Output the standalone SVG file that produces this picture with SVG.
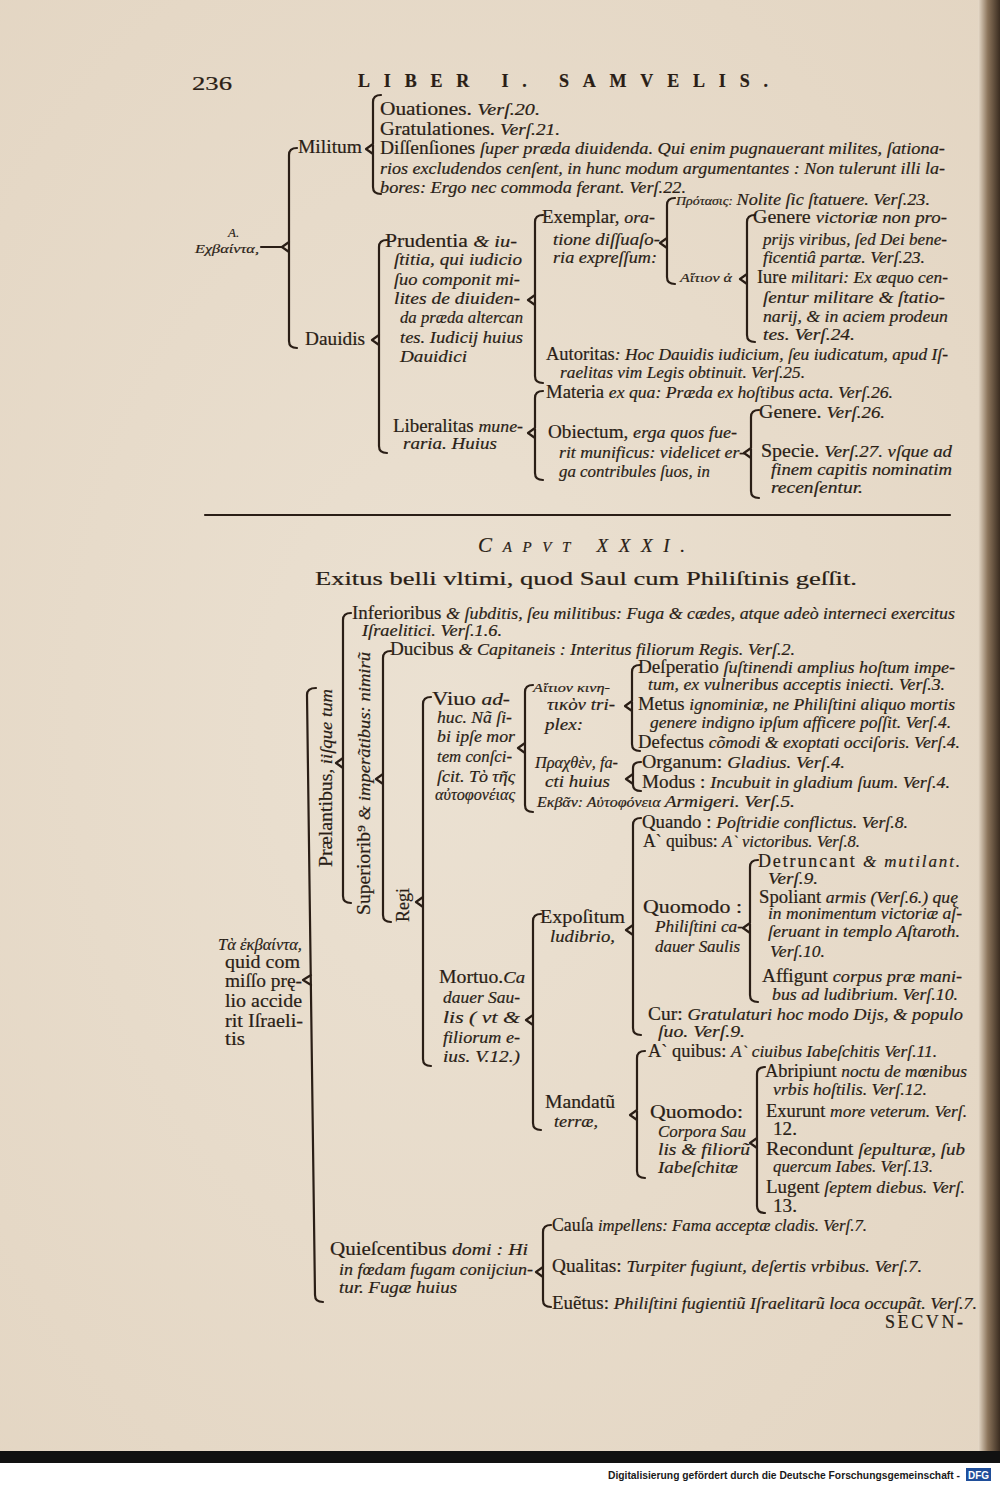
<svg xmlns="http://www.w3.org/2000/svg" width="1000" height="1485" viewBox="0 0 1000 1485">
<defs>
<style>
text{font-family:"Liberation Serif","DejaVu Serif",serif;fill:#2a1e16;font-size:18px;stroke:#2a1e16;stroke-width:0.2}
.i{font-style:italic;font-size:17px}
.g{font-style:italic;font-size:13px}
.b{stroke:#2a1e16;stroke-width:2.2;fill:none;stroke-linecap:round;stroke-linejoin:round}
.ft{font-family:"Liberation Sans",Arial,sans-serif;font-size:11.5px;font-weight:bold;fill:#1a1a1a;stroke:none}
</style>
<linearGradient id="edge" x1="0" y1="0" x2="1" y2="0">
<stop offset="0" stop-color="#e8dccb"/>
<stop offset="0.45" stop-color="#8a735a"/>
<stop offset="1" stop-color="#3a2c20"/>
</linearGradient>
<radialGradient id="paper" cx="0.45" cy="0.5" r="0.75">
<stop offset="0" stop-color="#ebe1d2"/>
<stop offset="1" stop-color="#e3d5c2"/>
</radialGradient>
</defs>
<rect x="0" y="0" width="1000" height="1452" fill="url(#paper)"/>
<rect x="978" y="0" width="22" height="1452" fill="url(#edge)"/>
<rect x="0" y="1451" width="1000" height="12" fill="#111"/>
<rect x="0" y="1463" width="1000" height="22" fill="#fff"/>

<g id="header">
<text x="192" y="90" font-size="21" textLength="40" lengthAdjust="spacingAndGlyphs">236</text>
<text x="358" y="87" font-size="22" font-weight="bold" textLength="410" lengthAdjust="spacing">LIBER I. SAMVELIS.</text>
</g>

<g id="connectors">
<path class="b" d="M261,247 L282,247"/>
<path class="b" d="M297,148 Q289,148 289,155 V341 Q289,348 297,348 M282,247 L289,242 M282,247 L289,252"/>
<path class="b" d="M381,95 Q373,95 373,102 V187 Q373,194 381,194 M366,149 L373,144 M366,149 L373,154"/>
<path class="b" d="M387,240 Q379,240 379,247 V446 Q379,453 387,453 M372,340 L379,335 M372,340 L379,345"/>
<path class="b" d="M543,215 Q535,215 535,222 V376 Q535,383 543,383 M528,300 L535,295 M528,300 L535,305"/>
<path class="b" d="M675,198 Q667,198 667,205 V277 Q667,284 675,284 M660,243 L667,238 M660,243 L667,248"/>
<path class="b" d="M755,215 Q747,215 747,222 V335 Q747,342 755,342 M740,279 L747,274 M740,279 L747,284"/>
<path class="b" d="M543,391 Q535,391 535,398 V473 Q535,480 543,480 M528,433 L535,428 M528,433 L535,438"/>
<path class="b" d="M759,410 Q751,410 751,417 V491 Q751,498 759,498 M744,453 L751,448 M744,453 L751,458"/>
<path class="b" d="M205,515 L950,515" stroke-width="3"/>
<path class="b" d="M316,688 Q307,688 307,695 L315,1295 Q315,1302 323,1302 M303,980 L311,975 M303,980 L311,985"/>
<path class="b" d="M351,613 Q343,613 343,620 V896 Q343,903 351,903 M336,763 L343,758 M336,763 L343,768"/>
<path class="b" d="M391,651 Q383,651 383,658 V915 Q383,922 391,922 M376,779 L383,774 M376,779 L383,784"/>
<path class="b" d="M431,697 Q423,697 423,704 V1059 Q423,1066 431,1066 M416,902 L423,897 M416,902 L423,907"/>
<path class="b" d="M533,685 Q525,685 525,692 V805 Q525,812 533,812 M518,748 L525,743 M518,748 L525,753"/>
<path class="b" d="M640,665 Q632,665 632,672 V744 Q632,751 640,751 M625,706 L632,701 M625,706 L632,711"/>
<path class="b" d="M641,762 Q633,762 633,768 V785 Q633,791 641,791 M626,779 L633,774 M626,779 L633,784"/>
<path class="b" d="M541,914 Q533,914 533,921 V1123 Q533,1130 541,1130 M526,1020 L533,1015 M526,1020 L533,1025"/>
<path class="b" d="M641,818 Q633,818 633,825 V1028 Q633,1035 641,1035 M626,930 L633,925 M626,930 L633,935"/>
<path class="b" d="M758,860 Q750,860 750,867 V995 Q750,1002 758,1002 M743,928 L750,923 M743,928 L750,933"/>
<path class="b" d="M645,1051 Q637,1051 637,1058 V1171 Q637,1178 645,1178 M630,1115 L637,1110 M630,1115 L637,1120"/>
<path class="b" d="M765,1067 Q757,1067 757,1074 V1206 Q757,1213 765,1213 M750,1143 L757,1138 M750,1143 L757,1148"/>
<path class="b" d="M551,1225 Q543,1225 543,1232 V1300 Q543,1307 551,1307 M536,1272 L543,1267 M536,1272 L543,1277"/>
</g>

<g id="n-root1">
<text class="g" x="228" y="237">Α.</text>
<text class="g" x="195" y="253" textLength="64" lengthAdjust="spacingAndGlyphs">Εχβαίντα,</text>
</g>
<g id="n-militum"><text x="298" y="153" textLength="64" lengthAdjust="spacingAndGlyphs">Militum</text></g>
<g id="n-militum-items">
<text x="380" y="115" textLength="160" lengthAdjust="spacingAndGlyphs">Ouationes. <tspan class="i">Verſ.20.</tspan></text>
<text x="380" y="135" textLength="180" lengthAdjust="spacingAndGlyphs">Gratulationes. <tspan class="i">Verſ.21.</tspan></text>
<text x="380" y="154" textLength="565" lengthAdjust="spacingAndGlyphs">Diſſenſiones <tspan class="i">ſuper præda diuidenda. Qui enim pugnauerant milites, ſationa-</tspan></text>
<text class="i" x="380" y="174" textLength="565" lengthAdjust="spacingAndGlyphs">rios excludendos cenſent, in hunc modum argumentantes : Non tulerunt illi la-</text>
<text class="i" x="380" y="193" textLength="306" lengthAdjust="spacingAndGlyphs">bores: Ergo nec commoda ferant. Verſ.22.</text>
</g>
<g id="n-dauidis"><text x="305" y="345" textLength="60" lengthAdjust="spacingAndGlyphs">Dauidis</text></g>
<g id="n-prudentia">
<text x="385" y="247" textLength="132" lengthAdjust="spacingAndGlyphs">Prudentia <tspan class="i">&amp; iu-</tspan></text>
<text class="i" x="394" y="265" textLength="128" lengthAdjust="spacingAndGlyphs">ſtitia, qui iudicio</text>
<text class="i" x="394" y="285" textLength="126" lengthAdjust="spacingAndGlyphs">ſuo componit mi-</text>
<text class="i" x="394" y="304" textLength="126" lengthAdjust="spacingAndGlyphs">lites de diuiden-</text>
<text class="i" x="400" y="323" textLength="123" lengthAdjust="spacingAndGlyphs">da præda altercan</text>
<text class="i" x="400" y="343" textLength="123" lengthAdjust="spacingAndGlyphs">tes. Iudicij huius</text>
<text class="i" x="400" y="362" textLength="67" lengthAdjust="spacingAndGlyphs">Dauidici</text>
</g>
<g id="n-exemplar">
<text x="542" y="223" textLength="113" lengthAdjust="spacingAndGlyphs">Exemplar, <tspan class="i">ora-</tspan></text>
<text class="i" x="553" y="245" textLength="107" lengthAdjust="spacingAndGlyphs">tione diſſuaſo-</text>
<text class="i" x="553" y="263" textLength="104" lengthAdjust="spacingAndGlyphs">ria expreſſum:</text>
</g>
<g id="n-protasis"><text class="i" x="676" y="205" textLength="254" lengthAdjust="spacingAndGlyphs"><tspan class="g">Πρότασις: </tspan>Nolite ſic ſtatuere. Verſ.23.</text></g>
<g id="n-aition1"><text class="g" x="680" y="282" textLength="52" lengthAdjust="spacingAndGlyphs">Αἴτιον ἀ</text></g>
<g id="n-genere1">
<text x="753" y="223" textLength="194" lengthAdjust="spacingAndGlyphs">Genere <tspan class="i">victoriæ non pro-</tspan></text>
<text class="i" x="763" y="245" textLength="184" lengthAdjust="spacingAndGlyphs">prijs viribus, ſed Dei bene-</text>
<text class="i" x="763" y="263" textLength="162" lengthAdjust="spacingAndGlyphs">ficentiâ partæ. Verſ.23.</text>
</g>
<g id="n-iure">
<text x="757" y="283" textLength="191" lengthAdjust="spacingAndGlyphs">Iure <tspan class="i">militari: Ex æquo cen-</tspan></text>
<text class="i" x="763" y="303" textLength="182" lengthAdjust="spacingAndGlyphs">ſentur militare &amp; ſtatio-</text>
<text class="i" x="763" y="322" textLength="185" lengthAdjust="spacingAndGlyphs">narij, &amp; in aciem prodeun</text>
<text class="i" x="763" y="340" textLength="92" lengthAdjust="spacingAndGlyphs">tes. Verſ.24.</text>
</g>
<g id="n-autoritas">
<text x="546" y="360" textLength="402" lengthAdjust="spacingAndGlyphs">Autoritas<tspan class="i">: Hoc Dauidis iudicium, ſeu iudicatum, apud Iſ-</tspan></text>
<text class="i" x="560" y="378" textLength="245" lengthAdjust="spacingAndGlyphs">raelitas vim Legis obtinuit. Verſ.25.</text>
</g>
<g id="n-liberalitas">
<text x="393" y="432" textLength="130" lengthAdjust="spacingAndGlyphs">Liberalitas <tspan class="i">mune-</tspan></text>
<text class="i" x="403" y="449" textLength="94" lengthAdjust="spacingAndGlyphs">raria. Huius</text>
</g>
<g id="n-materia"><text x="546" y="398" textLength="347" lengthAdjust="spacingAndGlyphs">Materia <tspan class="i">ex qua: Præda ex hoſtibus acta. Verſ.26.</tspan></text></g>
<g id="n-obiectum">
<text x="548" y="438" textLength="189" lengthAdjust="spacingAndGlyphs">Obiectum, <tspan class="i">erga quos fue-</tspan></text>
<text class="i" x="559" y="458" textLength="186" lengthAdjust="spacingAndGlyphs">rit munificus: videlicet er-</text>
<text class="i" x="559" y="477" textLength="151" lengthAdjust="spacingAndGlyphs">ga contribules ſuos, in</text>
</g>
<g id="n-genere2"><text x="759" y="418" textLength="126" lengthAdjust="spacingAndGlyphs">Genere. <tspan class="i">Verſ.26.</tspan></text></g>
<g id="n-specie">
<text x="761" y="457" textLength="191" lengthAdjust="spacingAndGlyphs">Specie. <tspan class="i">Verſ.27. vſque ad</tspan></text>
<text class="i" x="771" y="475" textLength="181" lengthAdjust="spacingAndGlyphs">finem capitis nominatim</text>
<text class="i" x="771" y="493" textLength="92" lengthAdjust="spacingAndGlyphs">recenſentur.</text>
</g>

<g id="chapter-title">
<text class="i" x="478" y="552" textLength="207" lengthAdjust="spacing"><tspan font-size="21">C</tspan><tspan font-size="15">APVT</tspan><tspan font-size="19">  XXXI.</tspan></text>
<text x="315" y="585" font-size="24" textLength="542" lengthAdjust="spacingAndGlyphs">Exitus belli vltimi, quod Saul cum Philiſtinis geſſit.</text>
</g>

<g id="n-root2">
<text class="i" x="218" y="950" font-size="15" textLength="84" lengthAdjust="spacingAndGlyphs">Τὰ ἐκβαίντα,</text>
<text x="225" y="968" textLength="75" lengthAdjust="spacingAndGlyphs">quid com</text>
<text x="225" y="987" textLength="77" lengthAdjust="spacingAndGlyphs">miſſo prę-</text>
<text x="225" y="1007" textLength="77" lengthAdjust="spacingAndGlyphs">lio accide</text>
<text x="225" y="1027" textLength="78" lengthAdjust="spacingAndGlyphs">rit Iſraeli-</text>
<text x="225" y="1045" textLength="20" lengthAdjust="spacingAndGlyphs">tis</text>
</g>
<g id="n-praeliantibus"><text transform="translate(332,867) rotate(-90)" textLength="178" lengthAdjust="spacingAndGlyphs">Prælantibus<tspan class="i">, iiſque tum</tspan></text></g>
<g id="n-superioribus"><text transform="translate(370,915) rotate(-90)" textLength="263" lengthAdjust="spacingAndGlyphs">Superiorib⁹ <tspan class="i">&amp; imperãtibus: nimirũ</tspan></text></g>
<g id="n-regi"><text transform="translate(409,922) rotate(-90)" textLength="34" lengthAdjust="spacingAndGlyphs">Regi</text></g>
<g id="n-inferioribus">
<text x="352" y="619" textLength="603" lengthAdjust="spacingAndGlyphs">Inferioribus <tspan class="i">&amp; ſubditis, ſeu militibus: Fuga &amp; cædes, atque adeò interneci exercitus</tspan></text>
<text class="i" x="362" y="636" textLength="140" lengthAdjust="spacingAndGlyphs">Iſraelitici. Verſ.1.6.</text>
</g>
<g id="n-ducibus"><text x="390" y="655" textLength="405" lengthAdjust="spacingAndGlyphs">Ducibus <tspan class="i">&amp; Capitaneis : Interitus filiorum Regis. Verſ.2.</tspan></text></g>
<g id="n-viuo">
<text x="432" y="705" textLength="78" lengthAdjust="spacingAndGlyphs">Viuo <tspan class="i">ad-</tspan></text>
<text class="i" x="437" y="723" textLength="75" lengthAdjust="spacingAndGlyphs">huc. Nã ſi-</text>
<text class="i" x="437" y="742" textLength="78" lengthAdjust="spacingAndGlyphs">bi ipſe mor</text>
<text class="i" x="437" y="762" textLength="75" lengthAdjust="spacingAndGlyphs">tem conſci-</text>
<text class="i" x="437" y="782" textLength="78" lengthAdjust="spacingAndGlyphs">ſcit. Τὸ τῆς</text>
<text class="i" x="435" y="800" font-size="14" textLength="80" lengthAdjust="spacingAndGlyphs">αὐτοφονέιας</text>
</g>
<g id="n-aition2">
<text class="g" x="533" y="692" textLength="77" lengthAdjust="spacingAndGlyphs">Αἴτιον κινη-</text>
<text class="i" x="547" y="710" font-size="14" textLength="68" lengthAdjust="spacingAndGlyphs">τικὸν tri-</text>
<text class="i" x="545" y="730" textLength="38" lengthAdjust="spacingAndGlyphs">plex:</text>
</g>
<g id="n-desperatio">
<text x="638" y="673" textLength="317" lengthAdjust="spacingAndGlyphs">Deſperatio <tspan class="i">ſuſtinendi amplius hoſtum impe-</tspan></text>
<text class="i" x="648" y="690" textLength="297" lengthAdjust="spacingAndGlyphs">tum, ex vulneribus acceptis iniecti. Verſ.3.</text>
</g>
<g id="n-metus">
<text x="638" y="710" textLength="317" lengthAdjust="spacingAndGlyphs">Metus <tspan class="i">ignominiæ, ne Philiſtini aliquo mortis</tspan></text>
<text class="i" x="650" y="728" textLength="301" lengthAdjust="spacingAndGlyphs">genere indigno ipſum afficere poſſit. Verſ.4.</text>
</g>
<g id="n-defectus"><text x="638" y="748" textLength="322" lengthAdjust="spacingAndGlyphs">Defectus <tspan class="i">cõmodi &amp; exoptati occiſoris. Verſ.4.</tspan></text></g>
<g id="n-prachthen">
<text class="i" x="535" y="768" font-size="15" textLength="83" lengthAdjust="spacingAndGlyphs">Πραχθὲν, fa-</text>
<text class="i" x="545" y="787" textLength="65" lengthAdjust="spacingAndGlyphs">cti huius</text>
</g>
<g id="n-organum"><text x="642" y="768" textLength="203" lengthAdjust="spacingAndGlyphs">Organum: <tspan class="i">Gladius. Verſ.4.</tspan></text></g>
<g id="n-modus"><text x="642" y="788" textLength="308" lengthAdjust="spacingAndGlyphs">Modus : <tspan class="i">Incubuit in gladium ſuum. Verſ.4.</tspan></text></g>
<g id="n-ekban"><text class="i" x="537" y="807" textLength="258" lengthAdjust="spacingAndGlyphs"><tspan font-size="14">Εκβᾶν: Αὐτοφόνεια </tspan>Armigeri. Verſ.5.</text></g>
<g id="n-mortuo">
<text x="439" y="983" textLength="86" lengthAdjust="spacingAndGlyphs">Mortuo.<tspan class="i">Ca</tspan></text>
<text class="i" x="443" y="1003" textLength="77" lengthAdjust="spacingAndGlyphs">dauer Sau-</text>
<text class="i" x="443" y="1023" textLength="77" lengthAdjust="spacingAndGlyphs">lis ( vt &amp;</text>
<text class="i" x="443" y="1043" textLength="77" lengthAdjust="spacingAndGlyphs">filiorum e-</text>
<text class="i" x="443" y="1062" textLength="77" lengthAdjust="spacingAndGlyphs">ius. V.12.)</text>
</g>
<g id="n-expositum">
<text x="540" y="923" textLength="85" lengthAdjust="spacingAndGlyphs">Expoſitum</text>
<text class="i" x="550" y="942" textLength="65" lengthAdjust="spacingAndGlyphs">ludibrio,</text>
</g>
<g id="n-quando"><text x="642" y="828" textLength="266" lengthAdjust="spacingAndGlyphs">Quando : <tspan class="i">Poſtridie conflictus. Verſ.8.</tspan></text></g>
<g id="n-aquibus1"><text x="643" y="847" textLength="217" lengthAdjust="spacingAndGlyphs">A` quibus: <tspan class="i">A` victoribus. Verſ.8.</tspan></text></g>
<g id="n-quomodo1">
<text x="643" y="913" textLength="99" lengthAdjust="spacingAndGlyphs">Quomodo :</text>
<text class="i" x="655" y="932" textLength="88" lengthAdjust="spacingAndGlyphs">Philiſtini ca-</text>
<text class="i" x="655" y="952" textLength="85" lengthAdjust="spacingAndGlyphs">dauer Saulis</text>
</g>
<g id="n-detruncant">
<text x="758" y="867" textLength="202" lengthAdjust="spacing">Detruncant     <tspan class="i">&amp; mutilant.</tspan></text>
<text class="i" x="768" y="884" textLength="50" lengthAdjust="spacingAndGlyphs">Verſ.9.</text>
</g>
<g id="n-spoliant">
<text x="759" y="903" textLength="199" lengthAdjust="spacingAndGlyphs">Spoliant <tspan class="i">armis (Verſ.6.) quę</tspan></text>
<text class="i" x="768" y="919" textLength="194" lengthAdjust="spacingAndGlyphs">in monimentum victoriæ aſ-</text>
<text class="i" x="768" y="937" textLength="192" lengthAdjust="spacingAndGlyphs">ſeruant in templo Aſtaroth.</text>
<text class="i" x="770" y="957" textLength="55" lengthAdjust="spacingAndGlyphs">Verſ.10.</text>
</g>
<g id="n-affigunt">
<text x="762" y="982" textLength="200" lengthAdjust="spacingAndGlyphs">Affigunt <tspan class="i">corpus præ mani-</tspan></text>
<text class="i" x="772" y="1000" textLength="186" lengthAdjust="spacingAndGlyphs">bus ad ludibrium. Verſ.10.</text>
</g>
<g id="n-cur">
<text x="648" y="1020" textLength="315" lengthAdjust="spacingAndGlyphs">Cur: <tspan class="i">Gratulaturi hoc modo Dijs, &amp; populo</tspan></text>
<text class="i" x="658" y="1037" textLength="87" lengthAdjust="spacingAndGlyphs">ſuo. Verſ.9.</text>
</g>
<g id="n-mandatu">
<text x="545" y="1108" textLength="70" lengthAdjust="spacingAndGlyphs">Mandatũ</text>
<text class="i" x="554" y="1127" textLength="44" lengthAdjust="spacingAndGlyphs">terræ,</text>
</g>
<g id="n-aquibus2"><text x="648" y="1057" textLength="289" lengthAdjust="spacingAndGlyphs">A` quibus: <tspan class="i">A` ciuibus Iabeſchitis Verſ.11.</tspan></text></g>
<g id="n-quomodo2">
<text x="650" y="1118" textLength="93" lengthAdjust="spacingAndGlyphs">Quomodo:</text>
<text class="i" x="658" y="1137" textLength="88" lengthAdjust="spacingAndGlyphs">Corpora Sau</text>
<text class="i" x="658" y="1155" textLength="92" lengthAdjust="spacingAndGlyphs">lis &amp; filiorũ</text>
<text class="i" x="658" y="1173" textLength="80" lengthAdjust="spacingAndGlyphs">Iabeſchitæ</text>
</g>
<g id="n-abripiunt">
<text x="765" y="1077" textLength="202" lengthAdjust="spacingAndGlyphs">Abripiunt <tspan class="i">noctu de mœnibus</tspan></text>
<text class="i" x="773" y="1095" textLength="154" lengthAdjust="spacingAndGlyphs">vrbis hoſtilis. Verſ.12.</text>
</g>
<g id="n-exurunt">
<text x="766" y="1117" textLength="201" lengthAdjust="spacingAndGlyphs">Exurunt <tspan class="i">more veterum. Verſ.</tspan></text>
<text x="773" y="1135" textLength="24" lengthAdjust="spacingAndGlyphs">12.</text>
</g>
<g id="n-recondunt">
<text x="766" y="1155" textLength="199" lengthAdjust="spacingAndGlyphs">Recondunt <tspan class="i">ſepulturæ, ſub</tspan></text>
<text class="i" x="773" y="1172" textLength="160" lengthAdjust="spacingAndGlyphs">quercum Iabes. Verſ.13.</text>
</g>
<g id="n-lugent">
<text x="766" y="1193" textLength="199" lengthAdjust="spacingAndGlyphs">Lugent <tspan class="i">ſeptem diebus. Verſ.</tspan></text>
<text x="773" y="1212" textLength="24" lengthAdjust="spacingAndGlyphs">13.</text>
</g>
<g id="n-quiescentibus">
<text x="330" y="1255" textLength="198" lengthAdjust="spacingAndGlyphs">Quieſcentibus <tspan class="i">domi : Hi</tspan></text>
<text class="i" x="339" y="1275" textLength="194" lengthAdjust="spacingAndGlyphs">in fœdam fugam conijciun-</text>
<text class="i" x="339" y="1293" textLength="118" lengthAdjust="spacingAndGlyphs">tur. Fugæ huius</text>
</g>
<g id="n-causa"><text x="552" y="1231" textLength="315" lengthAdjust="spacingAndGlyphs">Cauſa <tspan class="i">impellens: Fama acceptæ cladis. Verſ.7.</tspan></text></g>
<g id="n-qualitas"><text x="552" y="1272" textLength="370" lengthAdjust="spacingAndGlyphs">Qualitas: <tspan class="i">Turpiter fugiunt, deſertis vrbibus. Verſ.7.</tspan></text></g>
<g id="n-euentus"><text x="552" y="1309" textLength="425" lengthAdjust="spacingAndGlyphs">Euẽtus: <tspan class="i">Philiſtini fugientiũ Iſraelitarũ loca occupãt. Verſ.7.</tspan></text></g>
<g id="catchword"><text x="885" y="1328" font-size="17" textLength="78" lengthAdjust="spacing">SECVN-</text></g>

<g id="footer">
<text class="ft" x="608" y="1479" textLength="352" lengthAdjust="spacingAndGlyphs">Digitalisierung gefördert durch die Deutsche Forschungsgemeinschaft -</text>
<rect x="966" y="1468" width="25" height="13" fill="#1f4e9a"/>
<text class="ft" x="968" y="1478.5" font-size="10" style="fill:#fff" textLength="21" lengthAdjust="spacingAndGlyphs">DFG</text>
</g>
</svg>
